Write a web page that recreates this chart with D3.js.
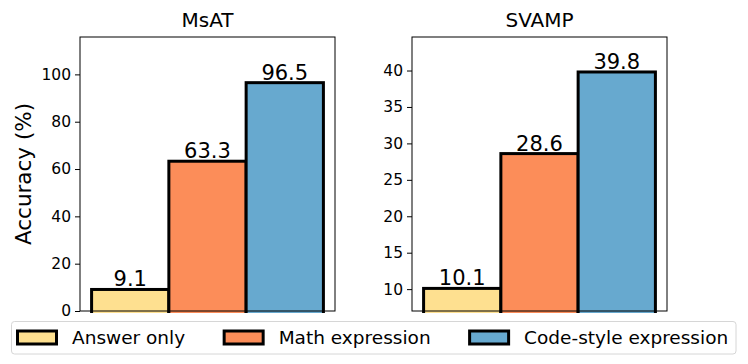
<!DOCTYPE html>
<html>
<head>
<meta charset="utf-8">
<script src="https://cdn.jsdelivr.net/npm/d3@7"></script>
<style>
  body { margin: 0; background: #fff; }
  svg { font-family: "DejaVu Sans", sans-serif; }
</style>
</head>
<body>
<div class="chart-container"></div>
<script>
// data
const methods = ["Answer only", "Math expression", "Code-style expression"];
const colors = ["#fee090", "#fc8d59", "#67a9cf"];
const msatValues = [9.1, 63.3, 96.5];
const svampValues = [10.1, 28.6, 39.8];
const msatTicks = [0, 20, 40, 60, 80, 100];
const svampTicks = [10, 15, 20, 25, 30, 35, 40];

const width = 748;
const height = 364;
const plotTop = 37;
const plotBottom = 311;

const svg = d3
  .select(".chart-container")
  .append("svg")
  .attr("width", width)
  .attr("height", height);

function drawPanel(title, values, ticks, yDomain, left, right) {
  const x = d3.scaleLinear().domain([-0.65, 2.65]).range([left, right]);
  const y = d3.scaleLinear().domain(yDomain).range([plotBottom, plotTop]);
  const g = svg.append("g");

  // clip so bars starting below the axis min get cut
  const clipId = "clip-" + title;
  svg.append("clipPath").attr("id", clipId)
    .append("rect")
    .attr("x", left).attr("y", plotTop)
    .attr("width", right - left).attr("height", plotBottom - plotTop + 2);

  g.append("g")
    .attr("clip-path", "url(#" + clipId + ")")
    .selectAll("rect")
    .data(values)
    .join("rect")
    .attr("x", (d, i) => x(i - 0.5))
    .attr("width", (d, i) => x(i + 0.5) - x(i - 0.5))
    .attr("y", d => y(d))
    .attr("height", d => y(yDomain[0]) - y(d) + 4)
    .style("fill", (d, i) => colors[i])
    .style("stroke", "#000")
    .style("stroke-width", 3);

  // value labels
  g.selectAll(".val")
    .data(values)
    .join("text")
    .attr("class", "val")
    .attr("x", (d, i) => x(i))
    .attr("y", d => y(d) - 3)
    .attr("text-anchor", "middle")
    .style("font-size", "21px")
    .style("fill", "#000")
    .text(d => d.toFixed(1));

  // frame
  g.append("rect")
    .attr("x", left)
    .attr("y", plotTop)
    .attr("width", right - left)
    .attr("height", plotBottom - plotTop)
    .style("fill", "none")
    .style("stroke", "#000")
    .style("stroke-width", 1);

  const yAxis = d3.axisLeft(y).tickValues(ticks).tickSize(5).tickPadding(4);
  const ax = g.append("g")
    .attr("transform", "translate(" + left + ",0)")
    .call(yAxis)
    .attr("font-size", 15.5)
    .attr("font-family", "DejaVu Sans, sans-serif");
  ax.select(".domain").remove();
  ax.selectAll("text").style("fill", "#000");
  ax.selectAll("line").style("stroke", "#000");

  g.append("text")
    .attr("x", (left + right) / 2)
    .attr("y", 27)
    .attr("text-anchor", "middle")
    .style("font-size", "20px")
    .text(title);
}

drawPanel("MsAT", msatValues, msatTicks, [0, 115.8], 80, 335);
drawPanel("SVAMP", svampValues, svampTicks, [7, 44.6], 412, 667);

// y label
svg.append("text")
  .attr("transform", "translate(31," + (plotTop + plotBottom) / 2 + ") rotate(-90)")
  .attr("text-anchor", "middle")
  .style("font-size", "21.5px")
  .text("Accuracy (%)");

// legend
const legend = svg.append("g");
legend.append("rect")
  .attr("x", 11.5)
  .attr("y", 321.5)
  .attr("width", 724.5)
  .attr("height", 32.5)
  .attr("rx", 3)
  .style("fill", "#fff")
  .style("stroke", "#d6d6d6")
  .style("stroke-width", 1);

let cursor = 17.5;
methods.forEach((m, i) => {
  legend.append("rect")
    .attr("x", cursor)
    .attr("y", 331)
    .attr("width", 39)
    .attr("height", 13)
    .style("fill", colors[i])
    .style("stroke", "#000")
    .style("stroke-width", 3);
  const t = legend.append("text")
    .attr("x", cursor + 54.5)
    .attr("y", 337.5)
    .attr("dy", "0.35em")
    .style("font-size", "18.5px")
    .text(m);
  cursor = cursor + 54.5 + t.node().getComputedTextLength() + 39;
});
</script>
</body>
</html>
